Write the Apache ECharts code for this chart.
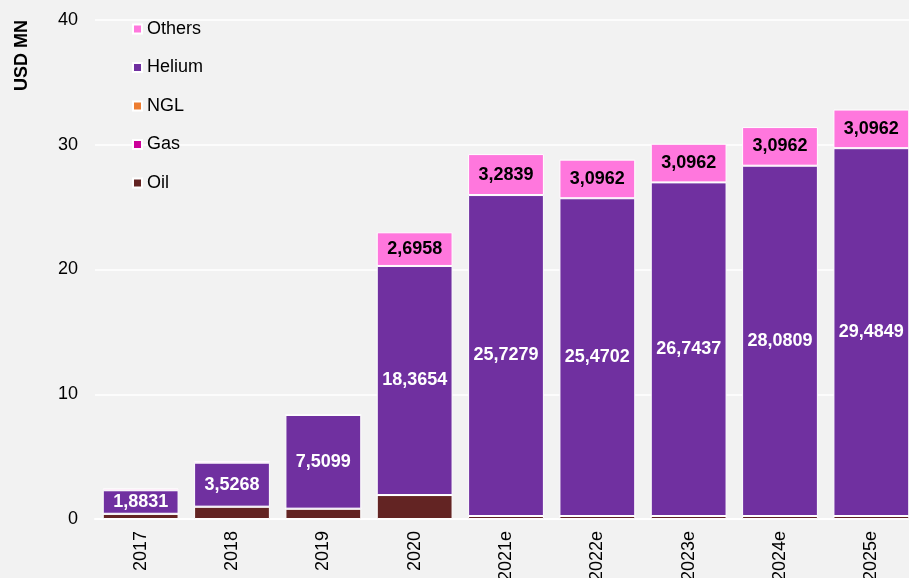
<!DOCTYPE html>
<html>
<head>
<meta charset="utf-8">
<style>
html,body{margin:0;padding:0;background:#F2F2F2;}
#chart{width:909px;height:578px;}
</style>
<script src="https://cdn.jsdelivr.net/npm/echarts@6/dist/echarts.min.js"></script>
</head>
<body>
<div id="chart"></div>
<script>
const categories = ['2017','2018','2019','2020','2021e','2022e','2023e','2024e','2025e'];
const oil    = [0.42, 0.99, 0.83, 1.92, 0.24, 0.24, 0.24, 0.24, 0.24];
const gas    = [0, 0, 0, 0, 0, 0, 0, 0, 0];
const ngl    = [0, 0, 0, 0, 0, 0, 0, 0, 0];
const helium = [1.8831, 3.5268, 7.5099, 18.3654, 25.7279, 25.4702, 26.7437, 28.0809, 29.4849];
const others = [0.15, 0.12, 0.0, 2.6958, 3.2839, 3.0962, 3.0962, 3.0962, 3.0962];
const yTicks = [0, 10, 20, 30, 40];

const FONT = 'Liberation Sans, Arial, sans-serif';
const fmt = v => v.toFixed(4).replace('.', ',');

function mk(name, data, color, labelOpt) {
  return {
    name: name, type: 'bar', stack: 'total', data: data,
    barCategoryGap: '17%',
    itemStyle: { color: color, borderColor: '#FFFFFF', borderWidth: 1 },
    label: labelOpt || { show: false },
    emphasis: { disabled: true }
  };
}

const chart = echarts.init(document.getElementById('chart'), null, { renderer: 'canvas' });
chart.setOption({
  backgroundColor: '#F2F2F2',
  animation: false,
  textStyle: { fontFamily: FONT },
  grid: { left: 95, right: -8, top: 20, bottom: 59, outerBoundsMode: 'none', containLabel: false },
  legend: {
    orient: 'vertical', left: 127, top: 15,
    data: ['Others', 'Helium', 'NGL', 'Gas', 'Oil'],
    icon: 'rect', itemWidth: 9, itemHeight: 9, itemGap: 20.5,
    textStyle: { fontFamily: FONT, fontSize: 18, color: '#000', lineHeight: 18 }
  },
  xAxis: {
    type: 'category', data: categories,
    axisLine: { show: true, lineStyle: { color: '#FFFFFF', width: 2 } },
    axisTick: { show: false },
    axisLabel: { rotate: 90, fontSize: 18, color: '#000', fontFamily: FONT, margin: 12 }
  },
  yAxis: {
    type: 'value', min: yTicks[0], max: yTicks[yTicks.length - 1], interval: 10,
    name: 'USD MN', nameLocation: 'end', nameRotate: 90, nameGap: 0,
    nameTextStyle: { fontSize: 18, fontWeight: 'bold', color: '#000', fontFamily: FONT, align: 'right', verticalAlign: 'bottom', padding: [0, 0, 64, 0] },
    axisLine: { show: false }, axisTick: { show: false },
    axisLabel: { fontSize: 18, color: '#000', fontFamily: FONT, margin: 17 },
    splitLine: { lineStyle: { color: '#FFFFFF', width: 1.5 } }
  },
  series: [
    mk('Oil', oil, '#632423'),
    mk('Gas', gas, '#CC0099'),
    mk('NGL', ngl, '#ED7D31'),
    mk('Helium', helium, '#7030A0', {
      show: true, position: 'inside', color: '#FFFFFF', fontWeight: 'bold', fontSize: 18, fontFamily: FONT,
      formatter: p => fmt(p.value)
    }),
    mk('Others', others, '#FF77DD', {
      show: true, position: 'inside', color: '#000000', fontWeight: 'bold', fontSize: 18, fontFamily: FONT,
      formatter: p => p.value >= 1 ? fmt(p.value) : ''
    })
  ]
});
</script>
</body>
</html>
